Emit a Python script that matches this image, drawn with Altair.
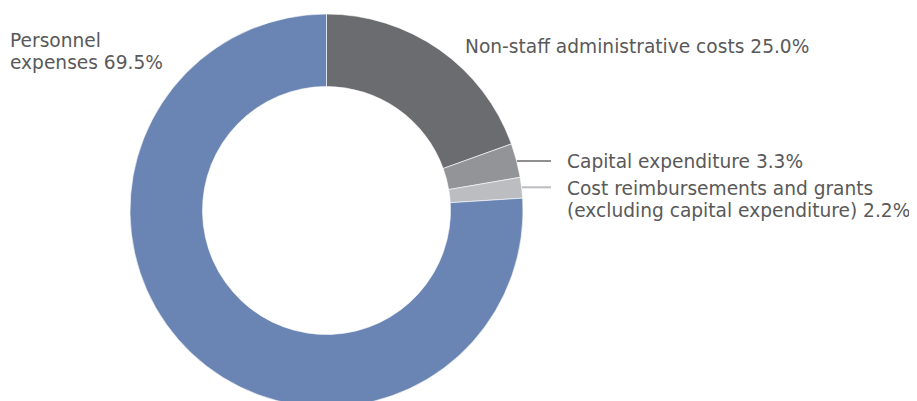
import altair as alt
import pandas as pd

# Slice shares as drawn in the picture (angles measured off the ring)
categories = [
    "Non-staff administrative costs",
    "Capital expenditure",
    "Cost reimbursements and grants",
    "Personnel expenses",
]
drawn_share = [19.5, 2.8, 1.7, 76.0]
label_pct = ["25.0%", "3.3%", "2.2%", "69.5%"]
colors = ["#6b6c70", "#939498", "#bcbdc1", "#6a85b4"]

# Label text lines
label_lines = [
    "Personnel",
    "expenses 69.5%",
    "Non-staff administrative costs 25.0%",
    "Capital expenditure 3.3%",
    "Cost reimbursements and grants",
    "(excluding capital expenditure) 2.2%",
]

# Layout (pixel positions inside the plot area) kept separate from data
label_x = [2, 2, 457, 559, 559, 559]
label_y = [38.7, 60.5, 44.5, 160, 187, 208.5]
CX, CY = 318.5, 202.5
R_OUT, R_IN = 196.5, 124
FONT = "DejaVu Sans"
FS = 18.6

df = pd.DataFrame({
    "category": categories,
    "share": drawn_share,
    "order": list(range(len(categories))),
})

ring = alt.Chart(df).mark_arc(
    outerRadius=R_OUT, innerRadius=R_IN, stroke="white", strokeWidth=0.6
).encode(
    theta=alt.Theta("share:Q", stack=True),
    order=alt.Order("order:Q"),
    color=alt.Color("category:N", scale=alt.Scale(domain=categories, range=colors), legend=None),
    x=alt.value(CX),
    y=alt.value(CY),
)

lab_df = pd.DataFrame({"text": label_lines, "lx": label_x, "ly": label_y})
labels = alt.Chart(lab_df).mark_text(
    align="left", baseline="alphabetic", font=FONT, fontSize=FS, color="#595959"
).encode(
    x=alt.X("lx:Q", scale=None),
    y=alt.Y("ly:Q", scale=None),
    text="text:N",
)

leader_df = pd.DataFrame({
    "x1": [509, 514],
    "x2": [543, 543],
    "yy": [153, 179.3],
    "c": ["#8f8f91", "#bcbdc0"],
})
leaders = alt.Chart(leader_df).mark_rule(strokeWidth=2).encode(
    x=alt.X("x1:Q", scale=None),
    x2="x2:Q",
    y=alt.Y("yy:Q", scale=None),
    color=alt.Color("c:N", scale=None),
)

chart = alt.layer(ring, leaders, labels).properties(
    width=901, height=393, padding=0, autosize=alt.AutoSizeParams(type="none")
).configure_view(stroke=None)

chart.save("out.html", embed_options={"renderer": "svg", "actions": False})
